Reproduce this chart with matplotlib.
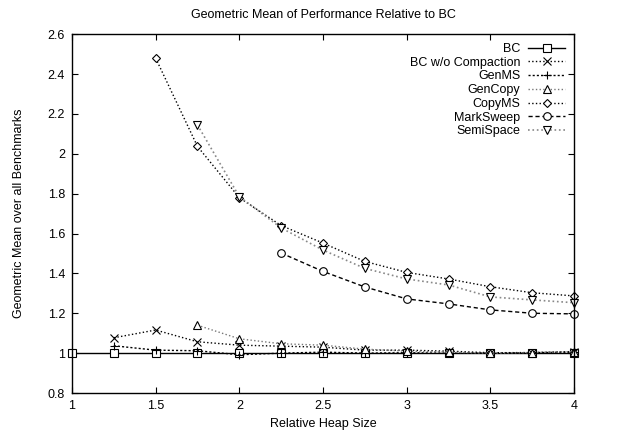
import matplotlib
matplotlib.use('Agg')
import matplotlib.pyplot as plt
import numpy as np

plt.rcParams['font.family'] = ['Liberation Sans', 'DejaVu Sans']

heap = [1.0, 1.25, 1.5, 1.75, 2.0, 2.25, 2.5, 2.75, 3.0, 3.25, 3.5, 3.75, 4.0]

# values per collector (None = no data point at that heap size)
bc       = [1.0, 1.0, 1.0, 1.0, 1.0, 1.0, 1.0, 1.0, 1.0, 1.0, 1.0, 1.0, 1.0]
bc_nocmp = [None, 1.077, 1.116, 1.057, 1.040, 1.035, 1.030, 1.015, 1.015, 1.010, 1.002, 1.003, 1.008]
genms    = [None, 1.037, 1.015, 1.012, 0.992, 1.000, 1.005, 1.000, 1.002, 1.000, 1.000, 1.002, 1.005]
gencopy  = [None, None, None, 1.140, 1.072, 1.047, 1.040, 1.020, 1.010, 1.005, 1.000, 1.003, 1.008]
copyms   = [None, None, 2.480, 2.037, 1.780, 1.640, 1.552, 1.460, 1.405, 1.372, 1.333, 1.303, 1.287]
marksw   = [None, None, None, None, None, 1.502, 1.410, 1.332, 1.272, 1.247, 1.217, 1.200, 1.197]
semisp   = [None, None, None, 2.145, 1.785, 1.628, 1.517, 1.425, 1.372, 1.342, 1.282, 1.267, 1.253]

series = [
    ('BC', bc, 's', '-', 'black', 1.0),
    ('BC w/o Compaction', bc_nocmp, 'x', ':', 'black', 1.0),
    ('GenMS', genms, '+', (0, (1.5, 1.5)), 'black', 1.0),
    ('GenCopy', gencopy, '^', ':', '#777777', 1.0),
    ('CopyMS', copyms, 'D', ':', 'black', 1.0),
    ('MarkSweep', marksw, 'o', (0, (3, 2)), 'black', 1.0),
    ('SemiSpace', semisp, 'v', ':', '#888888', 1.2),
]

fig = plt.figure(figsize=(6.2, 4.36), dpi=100)
ax = fig.add_axes([0.116, 0.0986, 0.81, 0.823])

for name, vals, mk, ls, col, lw in series:
    xs = [h for h, v in zip(heap, vals) if v is not None]
    ys = [v for v in vals if v is not None]
    ms = 4.2 if mk == 'D' else 5.5
    ax.plot(xs, ys, linestyle=ls, color=col, linewidth=lw, marker=mk,
            markersize=ms, markerfacecolor='white', markeredgecolor='black',
            markeredgewidth=0.8, label=name, clip_on=False)

ax.set_xlim(1, 4)
ax.set_ylim(0.8, 2.6)
ax.set_xticks([1, 1.5, 2, 2.5, 3, 3.5, 4])
ax.set_xticklabels(['1', '1.5', '2', '2.5', '3', '3.5', '4'])
ax.set_yticks(np.arange(0.8, 2.61, 0.2))
ax.set_yticklabels(['0.8', '1', '1.2', '1.4', '1.6', '1.8', '2', '2.2', '2.4', '2.6'])
ax.tick_params(direction='in', top=True, right=True, length=4, labelsize=9, pad=5)
for s in ax.spines.values():
    s.set_linewidth(1.0)

ax.set_xlabel('Relative Heap Size', fontsize=9, labelpad=4)
ax.set_ylabel('Geometric Mean over all Benchmarks', fontsize=9, labelpad=16)
ax.set_title('Geometric Mean of Performance Relative to BC', fontsize=9, pad=12)

leg = ax.legend(loc='upper right', frameon=False, markerfirst=False, fontsize=9,
                handlelength=3, handletextpad=0.6, labelspacing=0.14,
                borderaxespad=0.3)
for t in leg.get_texts():
    t.set_ha('right')
leg._legend_box.align = 'right'

plt.savefig('out.png', dpi=100)
